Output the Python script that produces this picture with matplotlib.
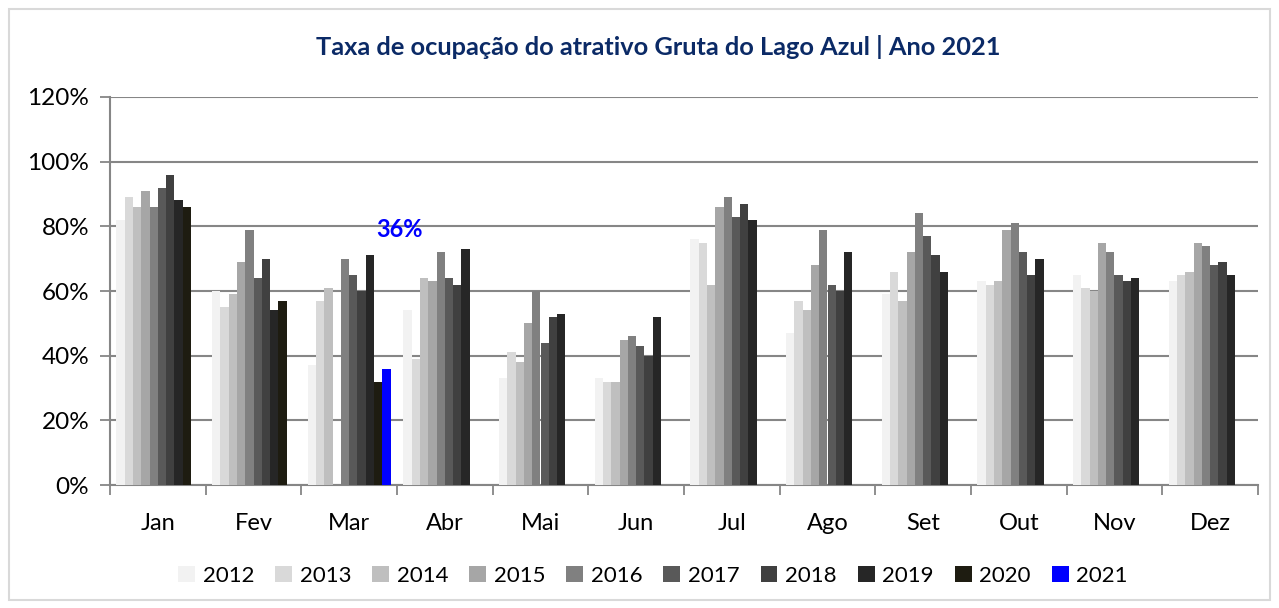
import matplotlib.pyplot as plt
from matplotlib.patches import Rectangle
import numpy as np

plt.rcParams['font.family'] = ['Lato', 'DejaVu Sans']

meses = ["Jan", "Fev", "Mar", "Abr", "Mai", "Jun", "Jul", "Ago", "Set", "Out", "Nov", "Dez"]
anos = ["2012", "2013", "2014", "2015", "2016", "2017", "2018", "2019", "2020", "2021"]
nan = np.nan

# taxa de ocupação (%) por ano, Jan..Dez
v2012 = [82, 60, 37, 54, 33, 33, 76, 47, 59, 63, 65, 63]
v2013 = [89, 55, 57, 39, 41, 32, 75, 57, 66, 62, 61, 65]
v2014 = [86, 59, 61, 64, 38, 32, 62, 54, 57, 63, 60, 66]
v2015 = [91, 69, nan, 63, 50, 45, 86, 68, 72, 79, 75, 75]
v2016 = [86, 79, 70, 72, 60, 46, 89, 79, 84, 81, 72, 74]
v2017 = [92, 64, 65, 64, 44, 43, 83, 62, 77, 72, 65, 68]
v2018 = [96, 70, 60, 62, 52, 40, 87, 60, 71, 65, 63, 69]
v2019 = [88, 54, 71, 73, 53, 52, 82, 72, 66, 70, 64, 65]
v2020 = [86, 57, 32, nan, nan, nan, nan, nan, nan, nan, nan, nan]
v2021 = [nan, nan, 36, nan, nan, nan, nan, nan, nan, nan, nan, nan]

series = [v2012, v2013, v2014, v2015, v2016, v2017, v2018, v2019, v2020, v2021]
cores = ["#F2F2F2", "#D9D9D9", "#BFBFBF", "#A6A6A6", "#808080",
         "#595959", "#404040", "#262626", "#1E1C11", "#0000FF"]

fig = plt.figure(figsize=(12.79, 6.08), dpi=100)
ax = fig.add_axes([110 / 1279, 1 - 485 / 608, 1148 / 1279, 388 / 608])

x = np.arange(len(meses))
w = 0.0868
for j, (vals, cor, ano) in enumerate(zip(series, cores, anos)):
    pos = x - 5 * w + (j + 0.5) * w
    ax.bar(pos, np.array(vals) / 100, width=w, color=cor, label=ano,
           edgecolor="none", zorder=3)

# rótulo do valor de 2021
i21 = 2
ax.text(i21 + 0.53, 0.79, "%d%%" % v2021[i21], color="#0000FF", fontsize=17,
        fontweight="bold", ha="center", va="center", zorder=4)

ax.set_xlim(-0.5, 11.5)
ax.set_ylim(0, 1.2)
ax.set_yticks(np.arange(0, 1.21, 0.2))
ax.set_yticklabels(["%d%%" % round(t * 100) for t in np.arange(0, 1.21, 0.2)])
ax.set_xticks(x)
ax.set_xticklabels(meses)
ax.set_xticks(np.arange(-0.5, 12, 1), minor=True)
ax.tick_params(axis="x", which="major", length=0, pad=20, labelsize=17)
ax.tick_params(axis="x", which="minor", length=7, color="#868686", width=1.3)
ax.tick_params(axis="y", length=7, color="#868686", width=1.3, labelsize=17.5, pad=8)
ax.grid(axis="y", color="#868686", linewidth=1.5, zorder=0)
for s in ["top", "right"]:
    ax.spines[s].set_visible(False)
for s in ["left", "bottom"]:
    ax.spines[s].set_color("#868686")
    ax.spines[s].set_linewidth(1.5)

fig.text(658 / 1279, 1 - 47 / 608, "Taxa de ocupação do atrativo Gruta do Lago Azul | Ano 2021",
         ha="center", va="center", fontsize=18.3, fontweight="bold", color="#0B2A66")

fig.legend(loc="center", bbox_to_anchor=(653 / 1279, 1 - 576 / 608), ncol=10,
           frameon=False, fontsize=16, handlelength=0.75, handleheight=0.75,
           handletextpad=0.35, columnspacing=0.95)

fig.patches.append(Rectangle((9 / 1279, 8 / 608), 1261 / 1279, 591 / 608,
                             transform=fig.transFigure, fill=False,
                             edgecolor="#D9D9D9", linewidth=1.5))

fig.savefig("out.png", dpi=100)
